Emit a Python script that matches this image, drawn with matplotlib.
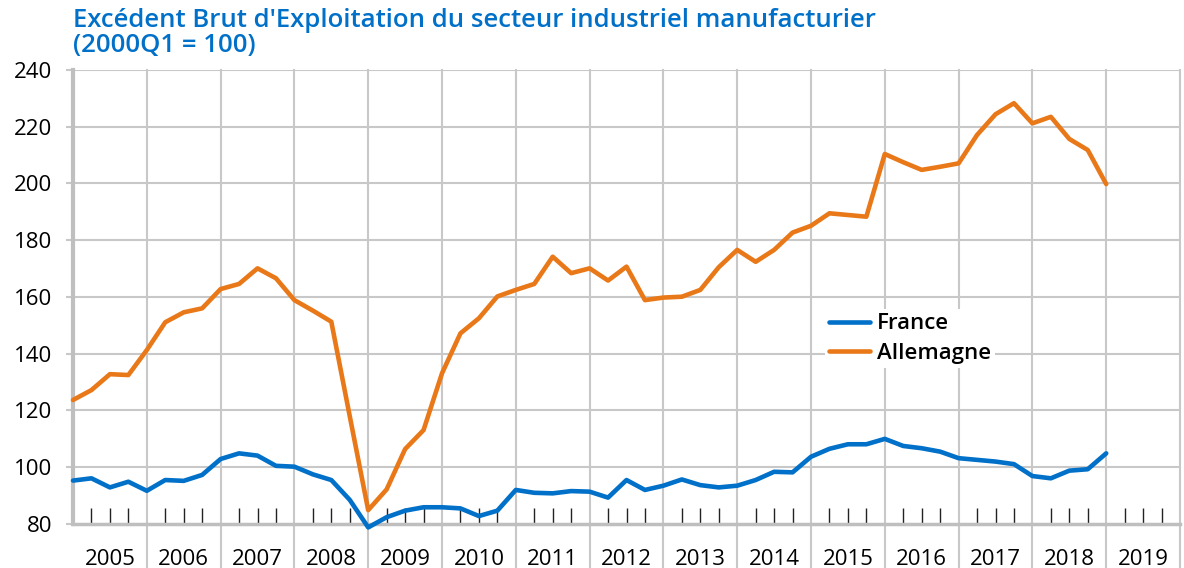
import numpy as np
import matplotlib.pyplot as plt
from matplotlib.ticker import FixedLocator, NullFormatter

plt.rcParams['font.family'] = ['Open Sans', 'DejaVu Sans']

# quarterly data, 2005Q1 .. 2019Q1 (2000Q1 = 100)
france = [95.3, 96.1, 92.9, 94.9, 91.7, 95.5, 95.2, 97.3,
          102.9, 104.9, 104.1, 100.5, 100.2, 97.5, 95.5, 88.5,
          78.8, 82.4, 84.7, 85.9, 85.9, 85.5, 82.8, 84.7,
          92.0, 91.0, 90.8, 91.6, 91.4, 89.3, 95.5, 92.0,
          93.5, 95.7, 93.7, 92.9, 93.5, 95.5, 98.4, 98.2,
          103.7, 106.5, 108.1, 108.1, 110.0, 107.5, 106.7, 105.5,
          103.2, 102.6, 102.0, 101.1, 96.9, 96.1, 98.8, 99.3,
          104.9]
allemagne = [123.7, 127.2, 132.8, 132.5, 141.3, 151.1, 154.6, 156.0,
             162.8, 164.6, 170.1, 166.6, 158.9, 155.2, 151.3, 118.0,
             84.9, 92.2, 106.4, 113.1, 133.1, 147.2, 152.5, 160.2,
             162.5, 164.6, 174.2, 168.4, 170.1, 165.8, 170.7, 158.9,
             159.8, 160.1, 162.5, 170.5, 176.6, 172.4, 176.6, 182.7,
             185.1, 189.5, 188.9, 188.3, 210.4, 207.5, 204.8, 205.9,
             207.1, 217.1, 224.4, 228.3, 221.2, 223.5, 215.7, 211.8,
             199.8]
years = list(range(2005, 2020))
title = "Excédent Brut d'Exploitation du secteur industriel manufacturier\n(2000Q1 = 100)"

x = 2005 + np.arange(len(france)) / 4.0

fig = plt.figure(figsize=(11.84, 5.68), dpi=100)
ax = fig.add_axes([73/1184, 1 - 524/568, 1107/1184, (524 - 70)/568])

blue = '#0070C8'
orange = '#E97818'
grid_c = '#C8C8C8'

ax.plot(x, france, color=blue, lw=3.3, solid_capstyle='round', solid_joinstyle='round',
        label='France', zorder=3, clip_on=False)
ax.plot(x, allemagne, color=orange, lw=3.3, solid_capstyle='round', solid_joinstyle='round',
        label='Allemagne', zorder=3, clip_on=False)

ax.set_xlim(2005, 2020)
ax.set_ylim(80, 240)
ax.set_yticks(np.arange(80, 241, 20))

# year gridlines, running down through the label area
for yr in years[1:] + [2020]:
    ax.plot([yr, yr], [80 - 16, 240], color=grid_c, lw=1.5, clip_on=False, zorder=1)
for v in range(100, 241, 20):
    ax.axhline(v, color=grid_c, lw=1.5, zorder=1)

# year labels centred, quarter ticks inside
ax.xaxis.set_major_locator(FixedLocator([yr + 0.5 for yr in years]))
ax.set_xticklabels([str(yr) for yr in years])
ax.xaxis.set_minor_locator(FixedLocator([yr + q / 4 for yr in years for q in (1, 2, 3)]))
ax.xaxis.set_minor_formatter(NullFormatter())
ax.xaxis.remove_overlapping_locs = False
ax.tick_params(axis='x', which='major', length=0, pad=18, labelsize=16)
ax.tick_params(axis='x', which='minor', direction='in', length=11.5, width=1, color='#222222')
ax.tick_params(axis='y', which='major', length=5, width=1.5, color=grid_c, pad=10, labelsize=16)

for s in ['top', 'right']:
    ax.spines[s].set_visible(False)
ax.spines['left'].set_color('#BFBFBF')
ax.spines['left'].set_linewidth(3)
ax.spines['bottom'].set_color('#BFBFBF')
ax.spines['bottom'].set_linewidth(2.5)

leg = ax.legend(loc='upper left', bbox_to_anchor=(0.669, 0.498), frameon=True,
                prop={'size': 16, 'weight': 'semibold'},
                handlelength=1.85, handletextpad=0.3, labelspacing=0.38, borderpad=0.2,
                fancybox=False, framealpha=1)
leg.get_frame().set_edgecolor('none')
leg.set_zorder(4)

fig.text(73/1184, 1 - 8/568, title, color=blue, fontsize=18.5, fontweight='semibold',
         va='top', ha='left', linespacing=1.02)

fig.savefig('out.png', dpi=100)
